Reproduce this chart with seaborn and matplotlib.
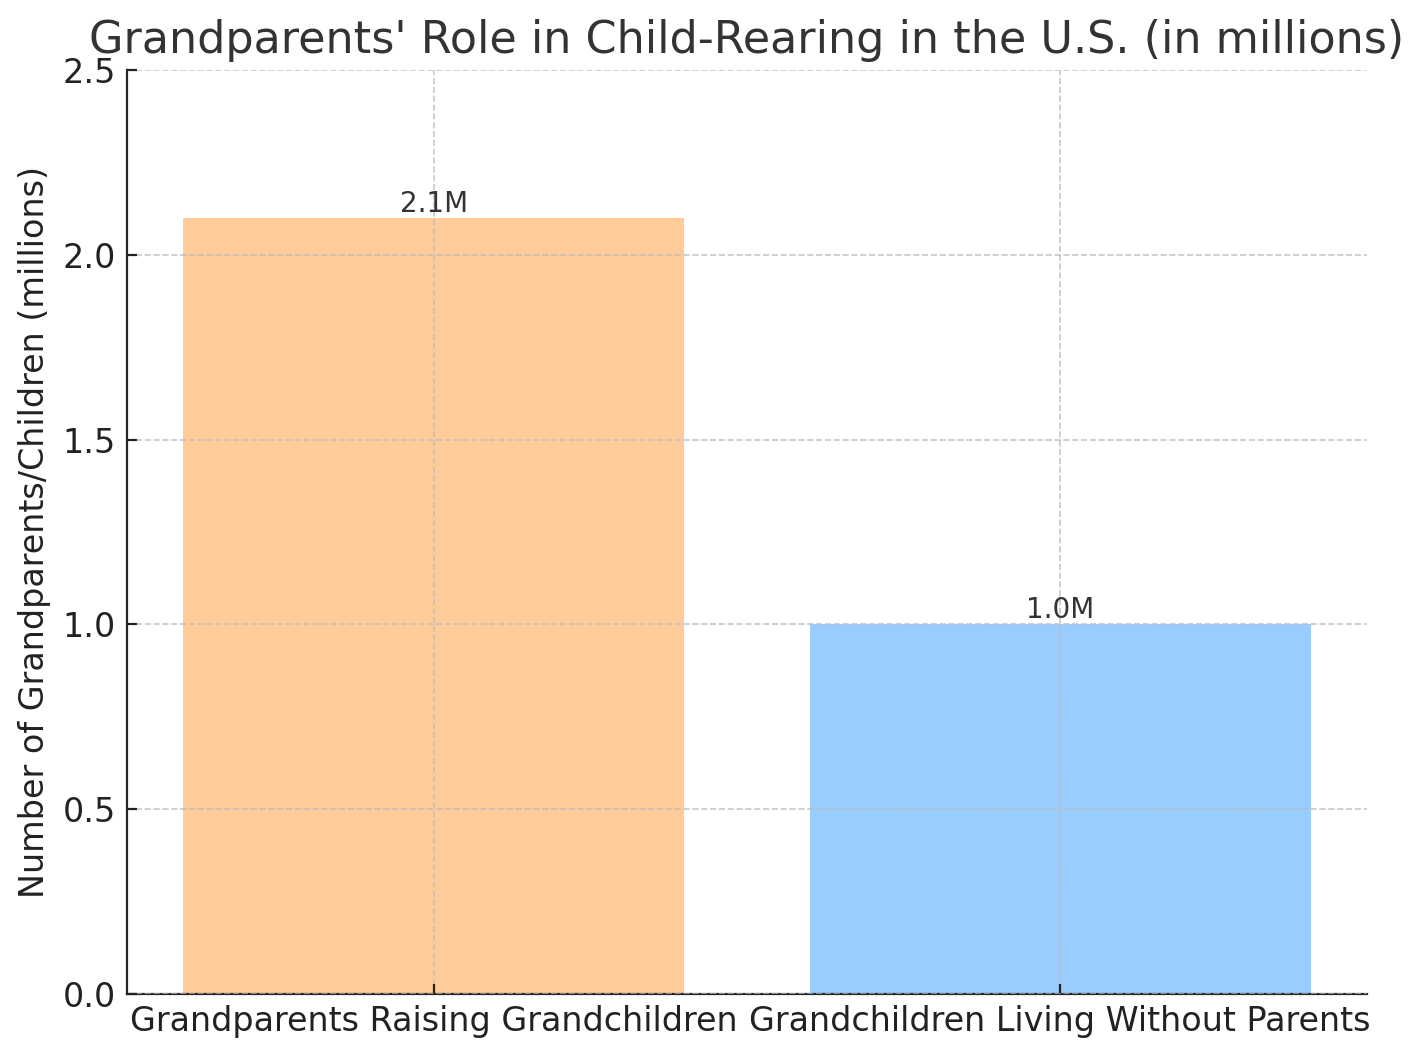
import matplotlib
matplotlib.use("Agg")
import matplotlib.pyplot as plt
import seaborn as sns
import pandas as pd

categories = ["Grandparents Raising Grandchildren", "Grandchildren Living Without Parents"]
values = [2.1, 1.0]
labels = ["2.1M", "1.0M"]
colors = ["#FFCC99", "#99CCFF"]

sns.set_style("ticks")
plt.rcParams['font.family'] = ['DejaVu Sans']

df = pd.DataFrame({"category": categories, "value": values})

fig = plt.figure(figsize=(7.12, 5.285), dpi=200)
ax = fig.add_axes([0.0892, 0.0596, 0.8708, 0.8742])
sns.barplot(data=df, x="category", y="value", hue="category", palette=colors,
            legend=False, ax=ax, width=0.8, saturation=1, linewidth=0)

for p, lab in zip(ax.patches, labels):
    ax.text(p.get_x() + p.get_width() / 2, p.get_height(), lab,
            ha="center", va="bottom", fontsize=10, color="#333333")

ax.set_ylim(0, 2.5)
ax.set_xlim(-0.49, 1.49)
ax.set_xlabel("")
ax.set_ylabel("Number of Grandparents/Children (millions)", fontsize=12, color="#222222")
ax.set_title("Grandparents' Role in Child-Rearing in the U.S. (in millions)", fontsize=16, color="#333333")
ax.tick_params(axis="both", labelsize=12, colors="#222222", length=3.5, direction="in", pad=4)
ax.grid(True, linestyle="--", color="#bbbbbb", linewidth=0.6, alpha=0.8)
ax.set_axisbelow(False)
for s in ["top", "right"]:
    ax.spines[s].set_visible(False)

fig.savefig("out.png", dpi=200)
